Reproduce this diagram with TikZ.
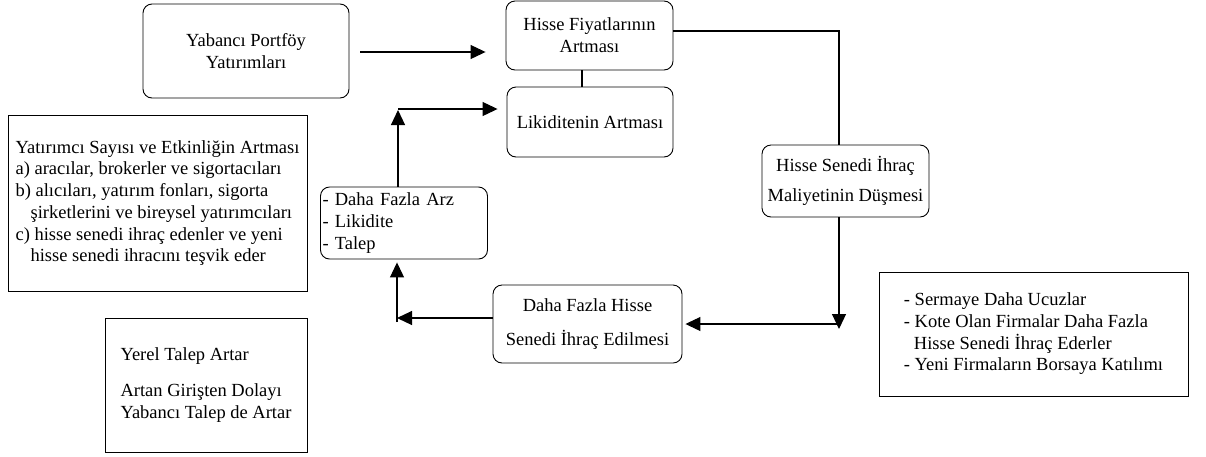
\documentclass[tikz,border=0pt]{standalone}
\usepackage{fontspec}
\setmainfont{Liberation Serif}
\usetikzlibrary{arrows.meta,calc}
\begin{document}
\begin{tikzpicture}[x=1pt,y=-1pt,
  font=\fontsize{18.5}{21.7}\selectfont,
  rbox/.style={draw, line width=0.9pt, rounded corners=9pt, inner sep=0pt, align=center},
  sbox/.style={draw, line width=0.9pt, inner sep=0pt, align=left},
  conn/.style={line width=1.1pt},
  arr/.style={conn, -{Triangle[length=15pt,width=14pt]}}]
\useasboundingbox (0,0) rectangle (1206,456);
\fill[white] (0,0) rectangle (1206,456);

% boxes
\node[rbox, minimum width=206pt, minimum height=94pt] (yab) at (246,51) {Yabancı Portföy\\Yatırımları};
\node[rbox, minimum width=167pt, minimum height=69pt] (hfa) at (589.5,35.5) {Hisse Fiyatlarının\\Artması};
\node[rbox, minimum width=166pt, minimum height=70pt] (lik) at (590,122) {Likiditenin Artması};
\node[rbox, minimum width=167pt, minimum height=72pt] (hsi) at (845.5,181) {Hisse Senedi İhraç\\[8pt]Maliyetinin Düşmesi};
\node[rbox, minimum width=189pt, minimum height=78pt] (dfh) at (587.5,324) {Daha Fazla Hisse\\[12pt]Senedi İhraç Edilmesi};
\node[rbox, minimum width=167pt, minimum height=72pt, text width=163pt, align=left] (arz) at (404,223) {- Daha Fazla Arz\\- Likidite\\- Talep};
\node[sbox, minimum width=299pt, minimum height=176pt] (yat) at (157.5,203) {Yatırımcı Sayısı ve Etkinliğin Artması\\
a) aracılar, brokerler ve sigortacıları\\
b) alıcıları, yatırım fonları, sigorta\\
\hspace*{15pt}şirketlerini ve bireysel yatırımcıları\\
c) hisse senedi ihraç edenler ve yeni\\
\hspace*{15pt}hisse senedi ihracını teşvik eder};
\node[sbox, minimum width=202pt, minimum height=134pt] (yer) at (206,385) {Yerel Talep Artar\\[14pt]Artan Girişten Dolayı\\Yabancı Talep de Artar};
\node[sbox, minimum width=309pt, minimum height=124pt] (kot) at (1033.5,334) {- Sermaye Daha Ucuzlar\\
- Kote Olan Firmalar Daha Fazla\\
\hspace*{10pt}Hisse Senedi İhraç Ederler\\
- Yeni Firmaların Borsaya Katılımı};

% connectors
\draw[arr] ($(yab.east)+(11,1)$) -- ($(hfa.west)+(-20,16.5)$);
\draw[conn] ([xshift=-7.5pt]hfa.south) -- ([xshift=-8pt]lik.north);
\draw[conn] ([yshift=4.5pt]hfa.east) -| ([xshift=-6.5pt]hsi.north);

\coordinate (dn) at (839,329);
\draw[arr] ([xshift=-6.5pt]hsi.south) -- (dn);
\coordinate (jn) at (837,324);
\draw[arr] (jn) -- ([xshift=3pt]dfh.east);

\coordinate (lj) at (397,318);
\draw[arr] (dfh.west |- lj) -- (lj);
\draw[arr] ($(lj)+(0,4)$) -- ($(arz.south -| lj)+(0,3)$);

\coordinate (uj) at (398,109);
\draw[arr] (arz.north -| uj) -- ($(uj)+(0,1)$);
\draw[arr] (uj) -- ($(lik.west |- uj)+(-9,0)$);
\end{tikzpicture}
\end{document}
